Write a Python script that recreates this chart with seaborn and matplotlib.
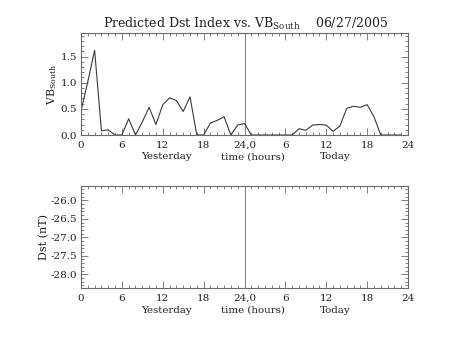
import numpy as np
import pandas as pd
import matplotlib
matplotlib.use("Agg")
import matplotlib.pyplot as plt
from matplotlib.ticker import MultipleLocator, FormatStrFormatter
import seaborn as sns

# Hourly southward interplanetary field (VB_south), yesterday 0-23 h then today 0-23 h
hours = list(range(48))
vb_south = [0.46, 1.02, 1.62, 0.08, 0.10, 0.00, 0.00, 0.31, 0.00, 0.25,
            0.53, 0.20, 0.58, 0.71, 0.66, 0.45, 0.73, 0.00, 0.00, 0.23,
            0.28, 0.35, 0.00, 0.19, 0.22, 0.00, 0.00, 0.00, 0.00, 0.00,
            0.00, 0.00, 0.12, 0.09, 0.19, 0.20, 0.19, 0.07, 0.17, 0.51,
            0.55, 0.53, 0.58, 0.35, 0.00, 0.00, 0.00, 0.00]
# Predicted Dst (nT): no predictions available for this period
dst_pred = [np.nan] * 48

xtick_pos = [0, 6, 12, 18, 24, 30, 36, 42, 48]
xtick_labels = ["0", "6", "12", "18", "24,0", "6", "12", "18", "24"]
day_labels = ["Yesterday", "time (hours)", "Today"]
title_text = r"Predicted Dst Index vs. VB$_{\mathrm{South}}$    06/27/2005"

sns.set_theme(style="ticks")
plt.rcParams["font.family"] = ["DejaVu Serif"]
plt.rcParams["mathtext.fontset"] = "dejavuserif"
plt.rcParams["axes.unicode_minus"] = False

ink = "#3a3a3a"
frame = "#6a6a6a"
text_c = "#222222"

fig = plt.figure(figsize=(4.53, 3.40), dpi=100)
fig.patch.set_facecolor("white")
ax1 = fig.add_axes([0.1788, 0.6029, 0.7219, 0.300])
ax2 = fig.add_axes([0.1788, 0.1520, 0.7219, 0.300])

df_vb = pd.DataFrame({"hour": hours, "vb": vb_south})
df_dst = pd.DataFrame({"hour": hours, "dst": dst_pred}).dropna()

sns.lineplot(data=df_vb, x="hour", y="vb", ax=ax1, color=ink, linewidth=0.8)
if len(df_dst):
    sns.lineplot(data=df_dst, x="hour", y="dst", ax=ax2, color=ink, linewidth=0.8)

ax1.set_ylim(0, 1.95)
ax2.set_ylim(-28.38, -25.62)

for ax in (ax1, ax2):
    ax.set_facecolor("white")
    ax.set_xlim(0, 48)
    ax.axvline(24, color="#888888", linewidth=0.8, zorder=1)
    ax.set_xticks(xtick_pos)
    ax.set_xticklabels(xtick_labels)
    ax.xaxis.set_minor_locator(MultipleLocator(1))
    ax.yaxis.set_major_locator(MultipleLocator(0.5))
    ax.yaxis.set_minor_locator(MultipleLocator(0.1))
    ax.yaxis.set_major_formatter(FormatStrFormatter("%.1f"))
    ax.tick_params(which="both", direction="in", top=True, right=True,
                   colors=frame, labelcolor=text_c, width=0.6)
    ax.tick_params(which="major", length=5, pad=4, labelsize=7.5)
    ax.tick_params(axis="y", which="major", pad=3)
    ax.tick_params(which="minor", length=2.5)
    for s in ax.spines.values():
        s.set_color(frame)
        s.set_linewidth(0.8)
    ax.set_xlabel("")
    for xf, txt in zip([0.26, 0.526, 0.776], day_labels):
        ax.text(xf, -0.215, txt, transform=ax.transAxes, ha="center",
                va="center", fontsize=7.4, color=text_c)

ax1.set_ylabel(r"VB$_{\mathrm{South}}$", fontsize=8, color=text_c, labelpad=1)
ax2.set_ylabel("Dst (nT)", fontsize=8, color=text_c, labelpad=1)

fig.text(0.541, 0.93, title_text, ha="center", va="center", fontsize=9,
         color=text_c)

fig.savefig("out.png", dpi=100, facecolor="white")
